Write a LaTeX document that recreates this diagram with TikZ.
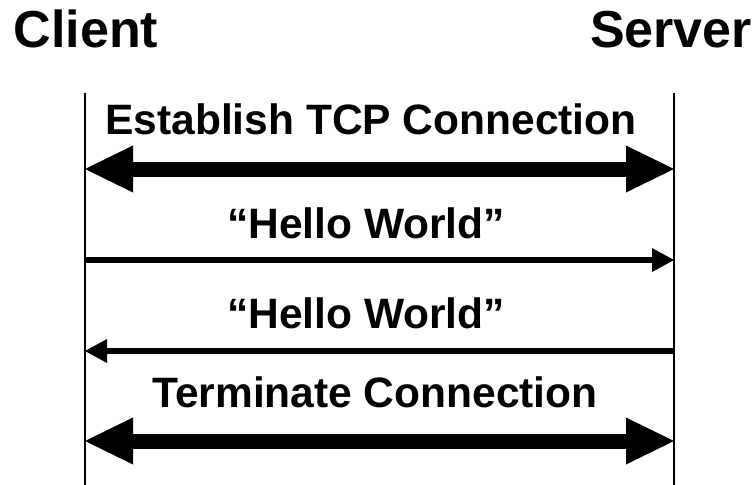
\documentclass[tikz,border=0pt]{standalone}
\usepackage{fontspec}
\setmainfont{Liberation Sans}
\usetikzlibrary{arrows.meta}
\begin{document}
\begin{tikzpicture}[x=1pt,y=-1pt,
  title/.style={font=\fontsize{52}{60}\selectfont\bfseries, anchor=base, inner sep=0pt},
  lbl/.style={font=\fontsize{42.5}{50}\selectfont\bfseries, anchor=base, inner sep=0pt},
  life/.style={line width=2pt},
  bigmsg/.style={line width=15pt, {Triangle[length=48pt,width=47pt,line width=0pt]}-{Triangle[length=48pt,width=47pt,line width=0pt]}},
  msg/.style={line width=6pt, -{Triangle[length=22pt,width=24pt,line width=0pt]}}]
\useasboundingbox (0,0) rectangle (756,485);
\node[title] (client) at (86,47) {Client};
\node[title] (server) at (671,47) {Server};
\coordinate (ctop) at (85,93);
\coordinate (cbot) at (85,485);
\coordinate (stop) at (674,93);
\coordinate (sbot) at (674,485);
\draw[life] (ctop) -- (cbot);
\draw[life] (stop) -- (sbot);
\coordinate (c1) at (85,169); \coordinate (s1) at (674,169);
\coordinate (c2) at (85,260); \coordinate (s2) at (674,260);
\coordinate (c3) at (85,351); \coordinate (s3) at (674,351);
\coordinate (c4) at (85,441); \coordinate (s4) at (674,441);
\node[lbl] (l1) at (371,134) {Establish TCP Connection};
\node[lbl] (l2) at (366,238) {“Hello World”};
\node[lbl] (l3) at (366,328) {“Hello World”};
\node[lbl] (l4) at (375,407) {Terminate Connection};
\draw[bigmsg] (c1) -- (s1);
\draw[msg] (c2) -- (s2);
\draw[msg] (s3) -- (c3);
\draw[bigmsg] (c4) -- (s4);
\end{tikzpicture}
\end{document}
